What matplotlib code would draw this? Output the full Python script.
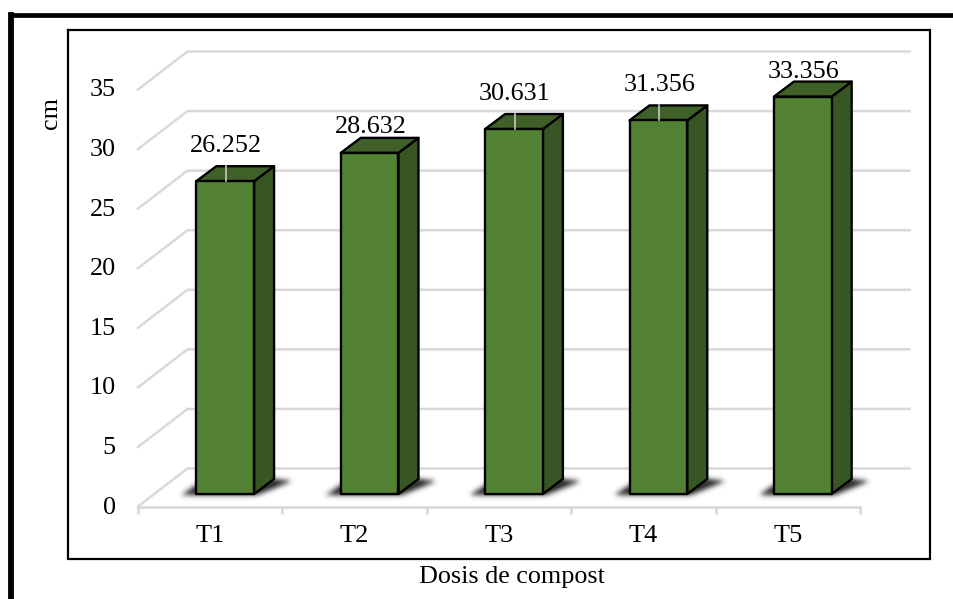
import matplotlib
matplotlib.use("Agg")
import numpy as np
import matplotlib.pyplot as plt
from matplotlib.lines import Line2D
from matplotlib.patches import Polygon
from matplotlib.path import Path
from matplotlib.transforms import Affine2D, IdentityTransform

plt.rcParams["font.family"] = ["Liberation Serif", "DejaVu Serif"]

# Data
categories = ["T1", "T2", "T3", "T4", "T5"]
values = [26.252, 28.632, 30.631, 31.356, 33.356]
y_ticks = [0, 5, 10, 15, 20, 25, 30, 35]
x_label = "Dosis de compost"
y_label = "cm"

# Style
W, H = 954, 599
FRONT = "#548235"
TOP = "#3F6128"
SIDE = "#375623"
GRID = "#D9D9D9"
BAR_W = 0.40
BAR_PLANE = (15.0, 12.5)    # oblique offset of the bars' front faces, px
BAR_DEPTH = (20.0, 15.0)    # oblique depth of each bar, px
WALL = (49.5, 38.0)         # oblique offset of the back wall, px
SHADOW_SIGMA = 2.6          # blur radius of the floor shadow, px
LABEL_LIFT = [35, 26, 35, 35, 25]
LEADERS = [True, False, True, True, False]

fig = plt.figure(figsize=(W / 100, H / 100), dpi=100, facecolor="white")
ax = fig.add_axes([138 / W, 1 - 506.5 / H, 722 / W, 417 / H])
ax.set_xlim(-0.5, 4.5)
ax.set_ylim(0, 35)
ax.patch.set_visible(False)
for name in ("top", "right", "left"):
    ax.spines[name].set_visible(False)
ax.spines["bottom"].set_color(GRID)
ax.spines["bottom"].set_linewidth(1.9)

ax.set_yticks(y_ticks)
ax.tick_params(axis="y", length=0, pad=16, labelsize=18.8)
for label in ax.get_yticklabels():
    label.set_transform(label.get_transform() + Affine2D().translate(0, 1.5))
ax.set_xticks(range(len(categories)), categories)
ax.set_xticks(np.arange(-0.5, 5), minor=True)
ax.tick_params(axis="x", which="major", length=0, pad=13, labelsize=19)
ax.tick_params(axis="x", which="minor", length=5, width=1.9, color=GRID)

px = IdentityTransform()


def project(x, y, off=(0.0, 0.0)):
    """Data point to display pixels, pushed back along the oblique axis."""
    p = ax.transData.transform((x, y))
    return p[0] + off[0], p[1] + off[1]


def add_poly(points, **kw):
    ax.add_patch(Polygon(points, closed=True, transform=px, clip_on=False, **kw))


def soft_shadow(vertices, sigma):
    """Paint a polygon as a Gaussian-blurred dark patch in display pixels."""
    v = np.asarray(vertices)
    pad = int(4 * sigma)
    x0, y0 = np.floor(v.min(axis=0)).astype(int) - pad
    x1, y1 = np.ceil(v.max(axis=0)).astype(int) + pad
    xs, ys = np.meshgrid(np.arange(x0, x1) + 0.5, np.arange(y0, y1) + 0.5)
    grid = np.column_stack([xs.ravel(), ys.ravel()])
    mask = Path(v).contains_points(grid).reshape(xs.shape).astype(float)
    r = np.arange(-pad, pad + 1)
    kernel = np.exp(-0.5 * (r / sigma) ** 2)
    kernel /= kernel.sum()
    mask = np.apply_along_axis(np.convolve, 0, mask, kernel, mode="same")
    mask = np.apply_along_axis(np.convolve, 1, mask, kernel, mode="same")
    rgba = np.zeros(mask.shape + (4,))
    rgba[..., :3] = 0.12
    rgba[..., 3] = np.clip(mask, 0, 0.9)
    ax.imshow(rgba, origin="lower", extent=(x0, x1, y0, y1), transform=px,
              aspect="auto", interpolation="bilinear", clip_on=False, zorder=2)


# Floor edge, side wall diagonals and back wall gridlines
for v in y_ticks:
    x0, y0 = project(-0.5, v)
    xb, yb = project(-0.5, v, WALL)
    xe, _ = project(4.5, v, WALL)
    ax.add_line(Line2D([x0, xb, xe], [y0, yb, yb], transform=px, color=GRID,
                       lw=1.8, clip_on=False, zorder=1, solid_joinstyle="round"))

# Soft contact shadows below the bars
for i in range(len(categories)):
    xl, yb = project(i - BAR_W / 2, 0, BAR_PLANE)
    xr, _ = project(i + BAR_W / 2, 0, BAR_PLANE)
    soft_shadow([(xl - 15, yb - 1), (xr + 3, yb - 1), (xr + 38, yb + 13),
                 (xr + 20, yb + 15), (xl + 8, yb + 14)], SHADOW_SIGMA)
ax.set_xlim(-0.5, 4.5)
ax.set_ylim(0, 35)

# Oblique bars and value labels
for i, (v, lift, leader) in enumerate(zip(values, LABEL_LIFT, LEADERS)):
    xl, yb = project(i - BAR_W / 2, 0, BAR_PLANE)
    xr, yt = project(i + BAR_W / 2, v, BAR_PLANE)
    dx, dy = BAR_DEPTH
    edge = dict(edgecolor="black", linewidth=1.7, joinstyle="round", zorder=3)
    add_poly([(xr, yb), (xr + dx, yb + dy), (xr + dx, yt + dy), (xr, yt)],
             facecolor=SIDE, **edge)
    add_poly([(xl, yt), (xr, yt), (xr + dx, yt + dy), (xl + dx, yt + dy)],
             facecolor=TOP, **edge)
    add_poly([(xl, yb), (xr, yb), (xr, yt), (xl, yt)], facecolor=FRONT, **edge)
    cx = (xl + xr) / 2 + 1
    if leader:
        ax.add_line(Line2D([cx, cx], [yt + 0.5, yt + dy], transform=px,
                           color="#C8C8C8", lw=1.2, clip_on=False, zorder=4))
    ax.text(cx, yt + lift, f"{v:.3f}", transform=px, ha="center", va="center",
            fontsize=18.8, color="black", zorder=5)

# Axis titles
fig.text(51 / W, 1 - 113 / H, y_label, rotation=90, ha="center", va="center",
         fontsize=18.8)
fig.text(512 / W, 1 - 577 / H, x_label, ha="center", va="center", fontsize=18.8)


def frame_line(xs, ys, lw):
    fig.add_artist(Line2D(np.array(xs) / W, 1 - np.array(ys) / H, color="black",
                          lw=lw, solid_joinstyle="miter",
                          solid_capstyle="projecting"))


# Inner chart border and outer page border
frame_line([68.3, 929.7, 929.7, 68.3, 68.3], [30, 30, 559, 559, 30], 1.6)
frame_line([11, 11], [605, 15], 4.2)
frame_line([11, 960], [15, 15], 3.4)

fig.savefig("out.png", dpi=100, facecolor="white")
